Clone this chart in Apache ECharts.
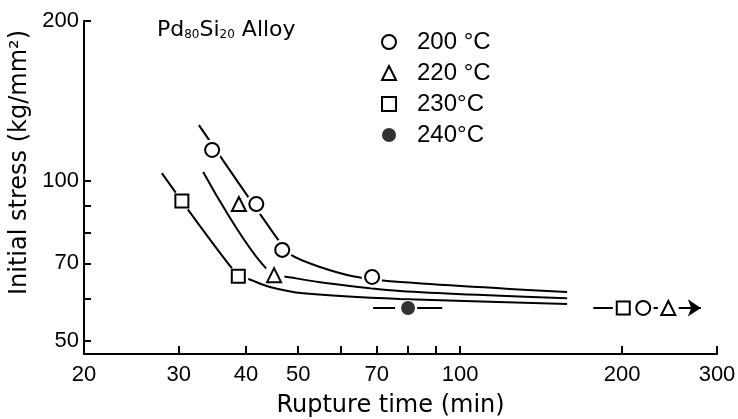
<!DOCTYPE html>
<html><head><meta charset="utf-8">
<script src="https://cdn.jsdelivr.net/npm/echarts@6/dist/echarts.min.js"></script>
<style>html,body{margin:0;padding:0;background:#fff}#c{width:738px;height:419px}</style>
</head><body><div id="c"></div>
<script>
// ticks and labels
const xTickValues = [30, 40, 50, 60, 70, 80, 90, 100, 200, 300];
const xLabelValues = [20, 30, 40, 50, 70, 100, 200, 300];
const yTickValues = [50, 60, 70, 80, 90, 100, 200];
const yLabelValues = [50, 70, 100, 200];

// series names
const names = ['200 °C', '220 °C', '230°C', '240°C'];

// measured points [rupture time (min), initial stress (kg/mm2)]
const pts200 = [[34.6, 114.4], [41.8, 90.5], [46.7, 74.2], [68.6, 66.0], [218.8, 57.7]];
const pts220 = [[38.8, 90.5], [45.1, 66.5], [243.6, 57.7]];
const pts230 = [[30.4, 91.7], [38.7, 66.2], [200.9, 57.7]];
const pts240 = [[80.0, 57.7]];

// fitted curves
const curve200 = [[32.7, 127.4], [45.9, 77.5], [48.5, 72.6], [54.9, 68.9], [63.2, 66.2], [74.1, 64.8], [158.0, 61.8]];
const curve220 = [[33.3, 104.0], [45.1, 66.5], [46.9, 66.2], [54.9, 64.5], [77.3, 62.1], [158.0, 60.2]];
const curve230 = [[27.9, 103.5], [38.7, 66.2], [40.4, 65.4], [44.3, 63.2], [51.1, 61.5], [77.3, 60.0], [158.0, 58.7]];

// 240 °C scatter range and the run-out arrow
const range240 = [[[68.9, 57.7], [75.7, 57.7]], [[83.2, 57.7], [92.6, 57.7]]];
const runout = [[176.7, 57.7], [280.0, 57.7]];

const symbols = ['circle', 'triangle', 'rect', 'circle'];
const ptsAll = [pts200, pts220, pts230, pts240];
const curves = [curve200, curve220, curve230];

const chart = echarts.init(document.getElementById('c'), null, {renderer: 'canvas'});
const black = '#000';
const numFont = 'Liberation Sans';
const nameFont = 'DejaVu Sans';

const series = [];
curves.forEach(c => series.push({
  type: 'line', data: c, smooth: 0.3, symbol: 'none', silent: true, z: 2,
  lineStyle: {color: black, width: 2}
}));
series.push({
  type: 'lines', coordinateSystem: 'cartesian2d', silent: true, z: 2,
  data: range240.map(c => ({coords: c})),
  lineStyle: {color: black, width: 2, opacity: 1}
});
series.push({
  type: 'lines', coordinateSystem: 'cartesian2d', silent: true, z: 2,
  symbol: ['none', 'arrow'], symbolSize: 13,
  data: [{coords: runout}],
  lineStyle: {color: black, width: 2, opacity: 1}
});
ptsAll.forEach((p, i) => series.push({
  type: 'scatter', data: p, symbol: 'circle', symbolSize: i === 3 ? 16 : 21, silent: true, z: 3,
  itemStyle: {color: '#fff', opacity: 1}
}));
ptsAll.forEach((p, i) => series.push({
  name: names[i], type: 'scatter', data: p, symbol: symbols[i],
  symbolSize: i === 2 ? 13 : 14, z: 4,
  itemStyle: i === 3 ? {color: black} : {color: '#fff', borderColor: black, borderWidth: 2, opacity: 1}
}));

chart.setOption({
  animation: false,
  backgroundColor: '#fff',
  title: {
    text: '{a|Pd}{b|80}{a|Si}{b|20}{a| Alloy}',
    left: 152, top: 11,
    textStyle: {
      fontWeight: 'normal',
      rich: {
        a: {fontFamily: nameFont, fontSize: 22, fontWeight: 'normal', color: black, verticalAlign: 'bottom', lineHeight: 25},
        b: {fontFamily: nameFont, fontSize: 12, fontWeight: 'normal', color: black, verticalAlign: 'bottom', lineHeight: 20}
      }
    }
  },
  legend: {
    data: names, orient: 'vertical', left: 381, top: 30, padding: 0,
    itemWidth: 14, itemHeight: 14, itemGap: 7,
    textStyle: {fontFamily: numFont, fontSize: 24, color: black, lineHeight: 24, padding: [0, 0, 0, 16]}
  },
  grid: {left: 84, right: 21, top: 21, bottom: 65, containLabel: false, outerBoundsMode: 'none'},
  xAxis: {
    type: 'log', logBase: 10, min: 20, max: 300,
    name: 'Rupture time (min)', nameLocation: 'middle', nameGap: 40,
    nameTextStyle: {fontFamily: nameFont, fontSize: 24, color: black, padding: [0, 20, 0, 0]},
    axisLine: {lineStyle: {color: black, width: 2}},
    axisTick: {inside: true, length: 8, customValues: xTickValues, lineStyle: {color: black, width: 2}},
    axisLabel: {customValues: xLabelValues, color: black, fontFamily: numFont, fontSize: 22, margin: 10},
    splitLine: {show: false}, minorTick: {show: false}
  },
  yAxis: {
    type: 'log', logBase: 10, min: 47.26, max: 200,
    name: 'Initial stress (kg/mm²)', nameLocation: 'middle', nameGap: 40,
    nameTextStyle: {fontFamily: nameFont, fontSize: 24, color: black, padding: [0, 0, 0, 50]},
    axisLine: {lineStyle: {color: black, width: 2}},
    axisTick: {inside: true, length: 7, customValues: yTickValues, lineStyle: {color: black, width: 2}},
    axisLabel: {customValues: yLabelValues, color: black, fontFamily: numFont, fontSize: 22, margin: 5},
    splitLine: {show: false}, minorTick: {show: false}
  },
  series: series
});
</script></body></html>
